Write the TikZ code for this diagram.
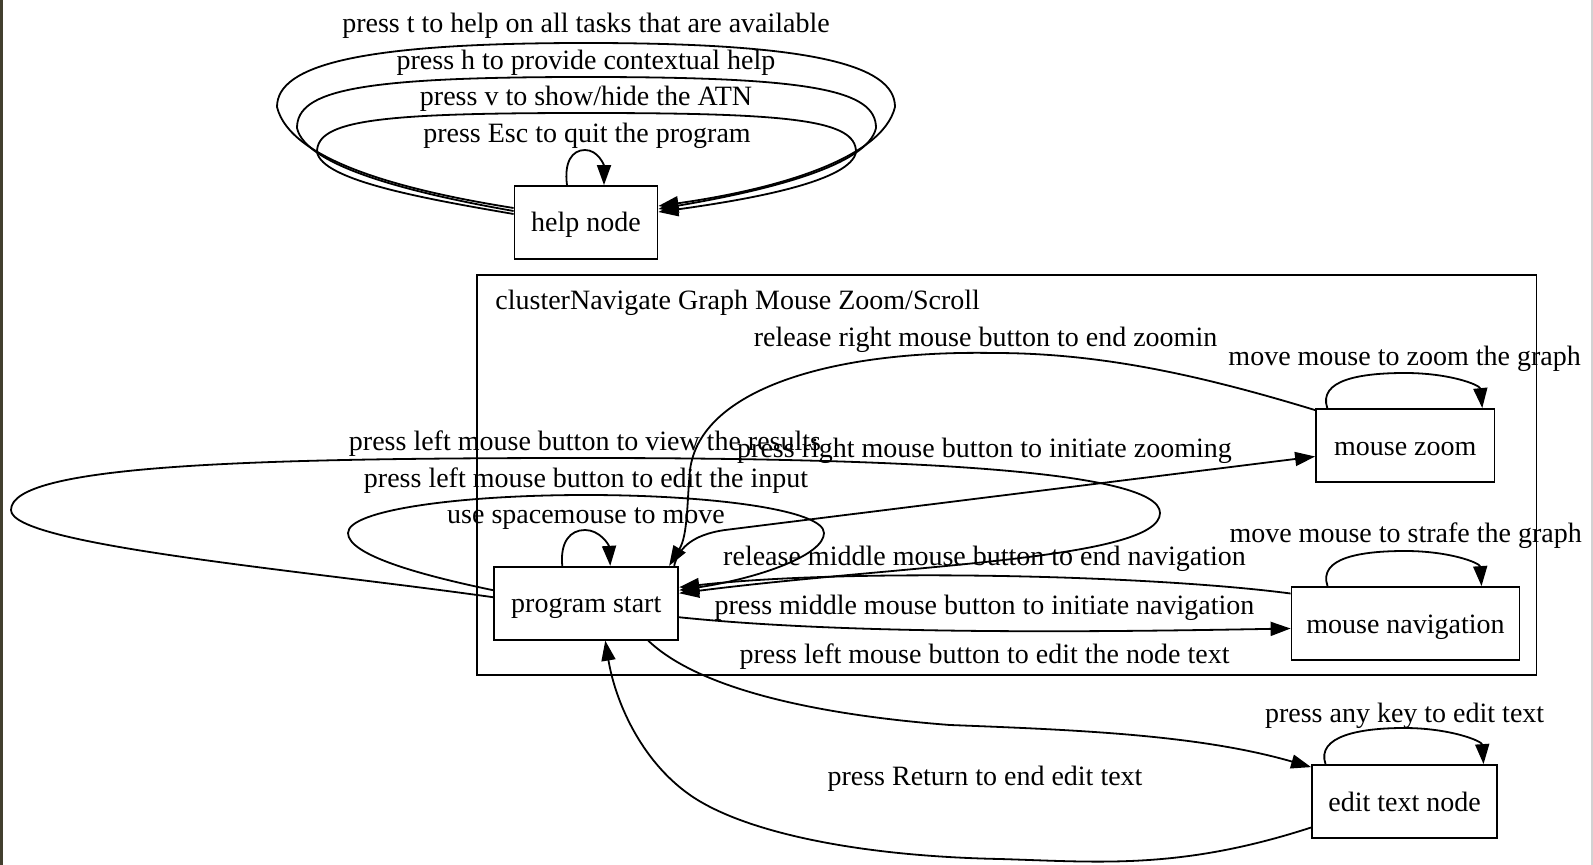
\documentclass[tikz,border=0pt]{standalone}
\usepackage{fontspec}
\setmainfont{Liberation Serif}
\usetikzlibrary{arrows.meta,calc}
\newcommand{\lblfont}{\fontsize{14pt}{16pt}\selectfont}
\tikzset{
  box/.style={draw, line width=0.9pt, minimum height=36.5pt, inner sep=0pt, font=\lblfont, text height=9.5pt, text depth=0pt},
  lbl/.style={inner sep=0pt, font=\lblfont, text height=9.5pt, text depth=0pt},
  conn/.style={line width=0.9pt, -{Triangle[length=10pt,width=7pt]}},
}
\begin{document}
\begin{tikzpicture}[x=0.5pt,y=-0.5pt]
\useasboundingbox (0,0) rectangle (1593,865);
\fill[white] (0,0) rectangle (1593,865);
\fill[black!70!olive] (0,0) rectangle (2.5,865);
\fill[gray!35] (1591,0) rectangle (1593,865);

% cluster
\draw[line width=0.9pt] (477,275) rectangle (1536.5,675);
\node[lbl, anchor=west] (clab) at (495,300) {clusterNavigate Graph Mouse Zoom/Scroll};

% nodes
\node[box, minimum width=71.5pt] (help) at (586,222.5) {help node};
\node[box, minimum width=92pt] (ps) at (586.25,603.25) {program start};
\node[box, minimum width=89.25pt] (mz) at (1405.25,445.5) {mouse zoom};
\node[box, minimum width=114pt] (mn) at (1405.5,623.5) {mouse navigation};
\node[box, minimum width=92.5pt] (et) at (1404.5,801.5) {edit text node};

% help loops
\draw[conn] ($(help.west)+(0,-14.5)$) .. controls (400,190) and (290,160) .. (277,107)
  .. controls (277,65) and (360,43) .. (586,43)
  .. controls (812,43) and (895,65) .. (895,107)
  .. controls (882,160) and (772,190) .. ($(help.east)+(0,-16.5)$);
\draw[conn] ($(help.west)+(0,-11.5)$) .. controls (405,192) and (305,165) .. (297,128)
  .. controls (297,90) and (360,77) .. (586,77)
  .. controls (812,77) and (876,90) .. (876,128)
  .. controls (868,165) and (770,190) .. ($(help.east)+(0,-13.5)$);
\draw[conn] ($(help.west)+(0,-8.5)$) .. controls (420,198) and (322,180) .. (317,152)
  .. controls (317,120) and (380,113) .. (586,113)
  .. controls (792,113) and (856,120) .. (856,152)
  .. controls (851,180) and (760,198) .. ($(help.east)+(0,-10.5)$);
\draw[conn] ($(help.north)+(-19,0)$) .. controls (564,162) and (572,150) .. (585,150)
  .. controls (598,150) and (604,165) .. ($(help.north)+(18,0)$);

\node[lbl] (l1) at (586,23) {press t to help on all tasks that are available};
\node[lbl] (l2) at (586,60) {press h to provide contextual help};
\node[lbl] (l3) at (586,96.5) {press v to show/hide the ATN};
\node[lbl] (l4) at (587,133) {press Esc to quit the program};

% program start loops
\draw[conn] ($(ps.north)+(-24,0)$) .. controls (560,542) and (570,530) .. (585,530)
  .. controls (600,530) and (609,545) .. ($(ps.north)+(24,0)$);
\draw[conn] ($(ps.west)+(0,-13)$) .. controls (420,575) and (348,555) .. (348,533)
  .. controls (348,510) and (460,495) .. (586,495)
  .. controls (712,495) and (824,510) .. (824,533)
  .. controls (824,555) and (760,578) .. ($(ps.east)+(0,-13)$);
\draw[conn] ($(ps.west)+(0,-6)$) .. controls (300,570) and (11,545) .. (11,510)
  .. controls (11,465) and (250,458) .. (586,458)
  .. controls (900,458) and (1160,470) .. (1160,513)
  .. controls (1160,560) and (900,565) .. ($(ps.east)+(0,-10)$);

% edges to/from mouse zoom
\draw[conn] ($(ps.north east)+(-5,0)$) .. controls (678,550) and (690,535) .. (725,530)
  -- ($(mz.west)+(0,11)$);
\draw[conn] ($(mz.north west)+(0,2)$) .. controls (1200,375) and (1100,353) .. (994,353)
  .. controls (830,350) and (700,390) .. (690,470)
  .. controls (687,500) and (688,535) .. ($(ps.north east)+(-10,0)$);

% edges to/from mouse navigation
\draw[conn] ($(mn.west)+(0,-30)$) .. controls (1150,575) and (850,568) .. ($(ps.east)+(0,-16)$);
\draw[conn] ($(ps.east)+(0,14)$) .. controls (850,635) and (1100,632) .. ($(mn.west)+(0,5)$);

% edges to/from edit text node
\draw[conn] ($(ps.south)+(62,0)$) .. controls (700,690) and (820,715) .. (950,725)
  .. controls (1080,730) and (1200,735) .. ($(et.north west)+(0,3)$);
\draw[conn] ($(et.west)+(0,26)$) .. controls (1180,870) and (1100,862) .. (1000,859)
  .. controls (850,856) and (740,830) .. (690,795)
  .. controls (640,760) and (615,700) .. ($(ps.south)+(19,0)$);

% self loops right
\draw[conn] ($(mz.north)+(-78,0)$) .. controls (1318,380) and (1360,373) .. (1405,373)
  .. controls (1450,373) and (1480,385) .. ($(mz.north)+(77,0)$);
\draw[conn] ($(mn.north)+(-78,0)$) .. controls (1318,558) and (1360,551) .. (1405,551)
  .. controls (1450,551) and (1480,563) .. ($(mn.north)+(76,0)$);
\draw[conn] ($(et.north)+(-79,0)$) .. controls (1316,736) and (1360,728) .. (1404,728)
  .. controls (1450,728) and (1482,741) .. ($(et.north)+(79,0)$);

% labels
\node[lbl] (l5) at (985.5,337.5) {release right mouse button to end zoomin};
\node[lbl] (l6) at (1404.6,355.6) {move mouse to zoom the graph};
\node[lbl] (l7) at (585,441) {press left mouse button to view the results};
\node[lbl] (l8) at (984.5,448) {press right mouse button to initiate zooming};
\node[lbl] (l9) at (586,477.5) {press left mouse button to edit the input};
\node[lbl] (l10) at (586,514) {use spacemouse to move};
\node[lbl] (l11) at (1405.6,533) {move mouse to strafe the graph};
\node[lbl] (l12) at (984.5,556) {release middle mouse button to end navigation};
\node[lbl] (l13) at (984.5,604.5) {press middle mouse button to initiate navigation};
\node[lbl] (l14) at (984.5,654) {press left mouse button to edit the node text};
\node[lbl] (l15) at (1404.6,713) {press any key to edit text};
\node[lbl] (l16) at (985,776) {press Return to end edit text};
\end{tikzpicture}
\end{document}
